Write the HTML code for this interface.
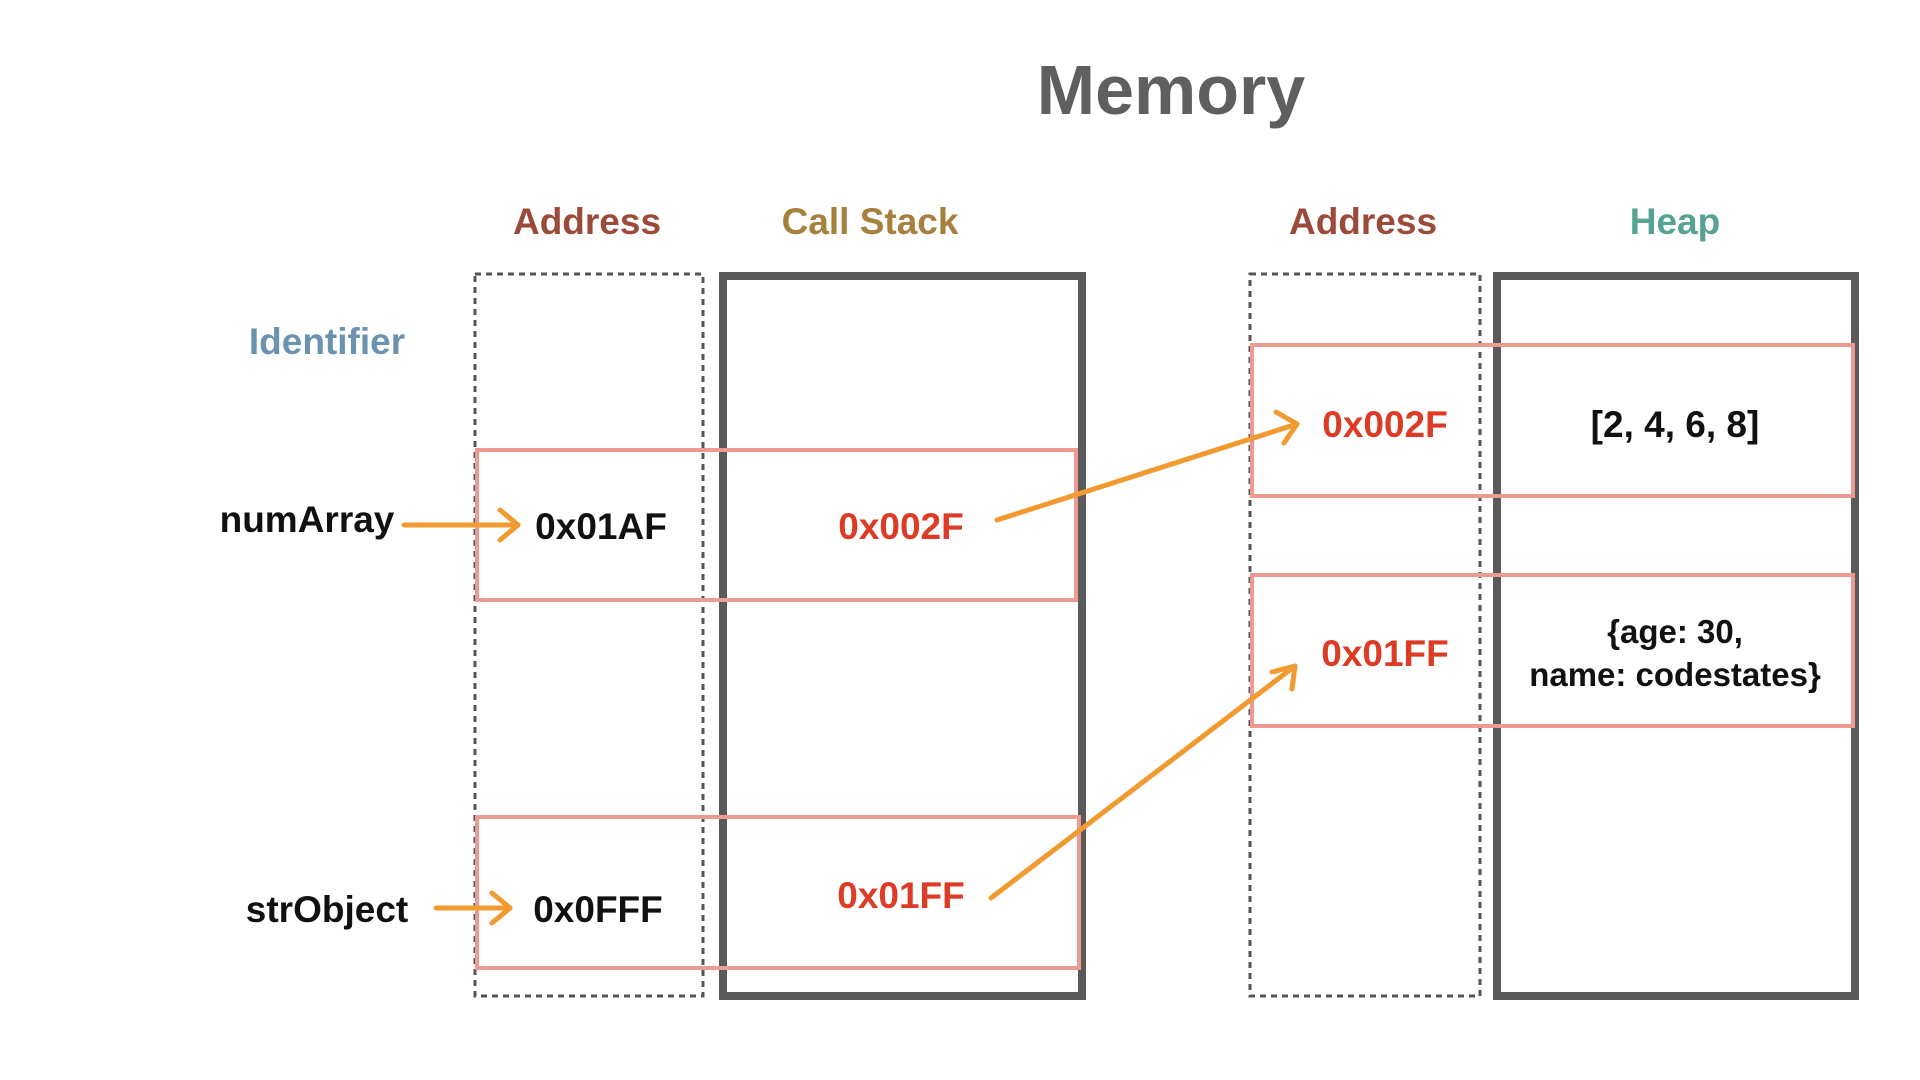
<!DOCTYPE html>
<html><head><style>
body{margin:0;width:1920px;height:1080px;background:#fff;overflow:hidden;position:relative;font-family:"Liberation Sans",sans-serif;font-weight:bold}
.t{position:absolute;transform:translate(-50%,-50%);white-space:nowrap;text-align:center}
#w{position:absolute;left:-6px;top:-4px;width:1920px;height:1080px}
</style></head><body>
<div id="w">
<svg width="1920" height="1080" style="position:absolute;left:0;top:0">
<rect x="481" y="278" width="228" height="722" fill="none" stroke="#555" stroke-width="3" stroke-dasharray="6,5"/>
<rect x="1256" y="278" width="230" height="722" fill="none" stroke="#555" stroke-width="3" stroke-dasharray="6,5"/>
<rect x="729" y="280" width="359" height="720" fill="none" stroke="#5a5a5a" stroke-width="8"/>
<rect x="1503" y="280" width="358" height="720" fill="none" stroke="#5a5a5a" stroke-width="8"/>
<g fill="none" stroke="#ee9a90" stroke-width="4">
<rect x="483" y="454" width="599" height="150"/>
<rect x="483" y="821" width="602" height="151"/>
<rect x="1258" y="349" width="601" height="151"/>
<rect x="1258" y="579" width="601" height="151"/>
</g>
<g stroke="#f09a30" stroke-width="5" fill="none" stroke-linecap="round" stroke-linejoin="round">
<line x1="410" y1="529" x2="524" y2="529"/><polyline points="506,514 524,529 506,544"/>
<line x1="442" y1="912" x2="516" y2="912"/><polyline points="498,897 516,912 498,927"/>
<line x1="1003" y1="524" x2="1303" y2="428"/><polyline points="1282,416 1303,428 1290,447"/>
<line x1="997" y1="902" x2="1301" y2="670"/><polyline points="1278,676 1301,670 1298,693"/>
</g>
</svg>
<div class="t" style="left:1177px;top:94px;font-size:70px;color:#5f5f5f">Memory</div>
<div class="t" style="left:593px;top:226px;font-size:37px;color:#9b4a3a">Address</div>
<div class="t" style="left:876px;top:226px;font-size:37px;color:#a8803e">Call Stack</div>
<div class="t" style="left:1369px;top:226px;font-size:37px;color:#9b4a3a">Address</div>
<div class="t" style="left:1681px;top:226px;font-size:37px;color:#55a394">Heap</div>
<div class="t" style="left:333px;top:346px;font-size:37px;color:#6a93b0">Identifier</div>
<div class="t" style="left:313px;top:524px;font-size:37px;color:#111">numArray</div>
<div class="t" style="left:607px;top:531px;font-size:37px;color:#111">0x01AF</div>
<div class="t" style="left:907px;top:531px;font-size:37px;color:#dd3b25">0x002F</div>
<div class="t" style="left:333px;top:914px;font-size:37px;color:#111">strObject</div>
<div class="t" style="left:604px;top:914px;font-size:37px;color:#111">0x0FFF</div>
<div class="t" style="left:907px;top:900px;font-size:37px;color:#dd3b25">0x01FF</div>
<div class="t" style="left:1391px;top:429px;font-size:37px;color:#dd3b25">0x002F</div>
<div class="t" style="left:1681px;top:429px;font-size:37px;color:#111">[2, 4, 6, 8]</div>
<div class="t" style="left:1391px;top:658px;font-size:37px;color:#dd3b25">0x01FF</div>
<div class="t" style="left:1681px;top:657px;font-size:33px;line-height:43px;color:#111">{age: 30,<br>name: codestates}</div>
</div>
</body></html>
